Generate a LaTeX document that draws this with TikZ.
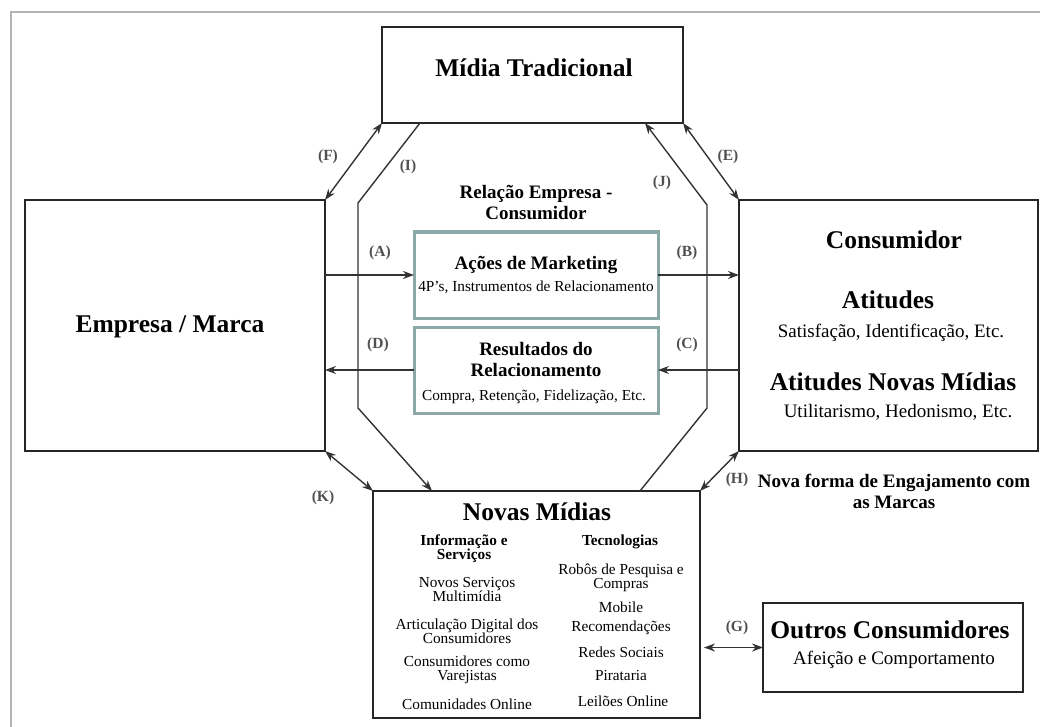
\documentclass[tikz,border=0pt]{standalone}
\usepackage{fontspec}
\setmainfont{Liberation Serif}
\usetikzlibrary{arrows.meta, positioning}

\definecolor{frameGray}{HTML}{B4B4B4}
\definecolor{boxTeal}{HTML}{8AA8A7}
\definecolor{lblGray}{HTML}{505050}
\newcommand{\bigfont}{\fontsize{25.5}{28}\selectfont\bfseries}
\newcommand{\midfont}{\fontsize{19}{22}\selectfont}
\newcommand{\smallfont}{\fontsize{15.3}{14}\selectfont}

\tikzset{
  box/.style={draw=black!85, line width=2pt, rectangle, inner sep=0pt, outer sep=0pt},
  tealbox/.style={draw=boxTeal, line width=3pt, rectangle, inner sep=0pt, outer sep=0pt},
  arr/.style={line width=1.4pt, draw=black!80, -{Stealth[length=11pt,width=8pt]}},
  dbl/.style={line width=1.4pt, draw=black!80, {Stealth[length=11pt,width=8pt]}-{Stealth[length=11pt,width=8pt]}},
  lbl/.style={font=\fontsize{15.5}{16}\selectfont\bfseries, text=lblGray, inner sep=0pt},
  txt/.style={align=center, inner sep=0pt}
}

\begin{document}
\begin{tikzpicture}[x=1pt, y=-1pt]
\useasboundingbox (0,0) rectangle (1040,727);
% moldura
\begin{scope}
\clip (0,0) rectangle (1040,727);
\draw[frameGray, line width=2pt] (11,12) rectangle (1080,780);
\end{scope}

% caixas principais
\node[box, minimum width=301pt, minimum height=96pt] (midia) at (532.5,75) {};
\node[box, minimum width=300pt, minimum height=251pt] (empresa) at (175,325.5) {};
\node[box, minimum width=299pt, minimum height=251pt] (cons) at (888.5,325.5) {};
\node[box, minimum width=327pt, minimum height=227pt] (novas) at (536.5,604.5) {};
\node[box, minimum width=260pt, minimum height=89pt] (outros) at (893,647.5) {};
\node[tealbox, minimum width=244pt, minimum height=86pt] (acoes) at (536,275) {};
\node[tealbox, minimum width=244pt, minimum height=86pt] (result) at (536,370) {};

% textos
\node[txt, font=\bigfont] (midiaT) at (534,68) {Mídia Tradicional};
\node[txt, font=\bigfont] (empresaT) at (170,327) {Empresa / Marca};
\node[txt, font=\bigfont] (consT) at (894,240) {Consumidor};
\node[txt, font=\bigfont] (atitT) at (888,300) {Atitudes};
\node[txt, font=\midfont] (atitS) at (891,333) {Satisfação, Identificação, Etc.};
\node[txt, font=\bigfont] (novasAtT) at (893,382) {Atitudes Novas Mídias};
\node[txt, font=\midfont] (novasAtS) at (898,412) {Utilitarismo, Hedonismo, Etc.};
\node[txt, font=\midfont\bfseries] (relT) at (536,202) {Relação Empresa -\\[-1pt]Consumidor};
\node[txt, font=\midfont\bfseries] (acoesT) at (536,265) {Ações de Marketing};
\node[txt, font=\fontsize{15.3}{17}\selectfont] (acoesS) at (536,287) {4P’s, Instrumentos de Relacionamento};
\node[txt, font=\midfont\bfseries] (resultT) at (536,359) {Resultados do\\[-1pt]Relacionamento};
\node[txt, font=\fontsize{15.3}{17}\selectfont] (resultS) at (534,397) {Compra, Retenção, Fidelização, Etc.};
\node[txt, font=\bigfont] (novasT) at (537,512) {Novas Mídias};
\node[txt, font=\bigfont] (outrosT) at (890,630) {Outros Consumidores};
\node[txt, font=\midfont] (outrosS) at (894,660) {Afeição e Comportamento};
\node[txt, font=\midfont\bfseries] (engT) at (894,491) {Nova forma de Engajamento com\\[-1pt]as Marcas};

% colunas das novas midias
\node[txt, font=\smallfont\bfseries] (infoT) at (464,549) {Informação e\\Serviços};
\node[txt, font=\smallfont] (nm1) at (467,590) {Novos Serviços\\Multimídia};
\node[txt, font=\smallfont] (nm2) at (467,631) {Articulação Digital dos\\Consumidores};
\node[txt, font=\smallfont] (nm3) at (467,670) {Consumidores como\\Varejistas};
\node[txt, font=\smallfont] (nm4) at (467,704) {Comunidades Online};
\node[txt, font=\smallfont\bfseries] (tecT) at (620,542) {Tecnologias};
\node[txt, font=\smallfont] (tc1) at (621,578) {Robôs de Pesquisa e\\Compras};
\node[txt, font=\smallfont] (tc2) at (621,607) {Mobile};
\node[txt, font=\smallfont] (tc3) at (621,628) {Recomendações};
\node[txt, font=\smallfont] (tc4) at (621,652) {Redes Sociais};
\node[txt, font=\smallfont] (tc5) at (621,676) {Pirataria};
\node[txt, font=\smallfont] (tc6) at (623,701) {Leilões Online};

% setas centrais
\draw[arr] (acoes.west -| empresa.east) -- (acoes.west);
\draw[arr] (acoes.east) -- (acoes.east -| cons.west);
\draw[arr] (result.east -| cons.west) -- (result.east);
\draw[arr] (result.west) -- (result.west -| empresa.east);

% setas duplas
\draw[dbl] (empresa.north east) -- (midia.south west);
\draw[dbl] (midia.south east) -- (cons.north west);
\draw[dbl] (empresa.south east) -- (novas.north west);
\draw[dbl] (novas.north east) -- (cons.south west);
\draw[dbl] ([xshift=4pt]novas.east |- outros.west) -- (outros.west);

% caminhos I e J
\draw[arr, line join=round] ([xshift=38pt]midia.south west) -- (358,203) -- (358,408) -- ([xshift=59pt]novas.north west);
\draw[arr, line join=round] ([xshift=-60pt]novas.north east) -- (707,408) -- (707,205) -- ([xshift=-38pt]midia.south east);

% rotulos
\node[lbl] (la) at (380,253) {(A)};
\node[lbl] (lb) at (687,253) {(B)};
\node[lbl] (lc) at (687,345) {(C)};
\node[lbl] (ld) at (378,345) {(D)};
\node[lbl] (le) at (728,157) {(E)};
\node[lbl] (lf) at (328,157) {(F)};
\node[lbl] (lg) at (737,628) {(G)};
\node[lbl] (lh) at (737,480) {(H)};
\node[lbl] (li) at (408,167) {(I)};
\node[lbl] (lj) at (662,183) {(J)};
\node[lbl] (lk) at (323,498) {(K)};
\end{tikzpicture}
\end{document}
